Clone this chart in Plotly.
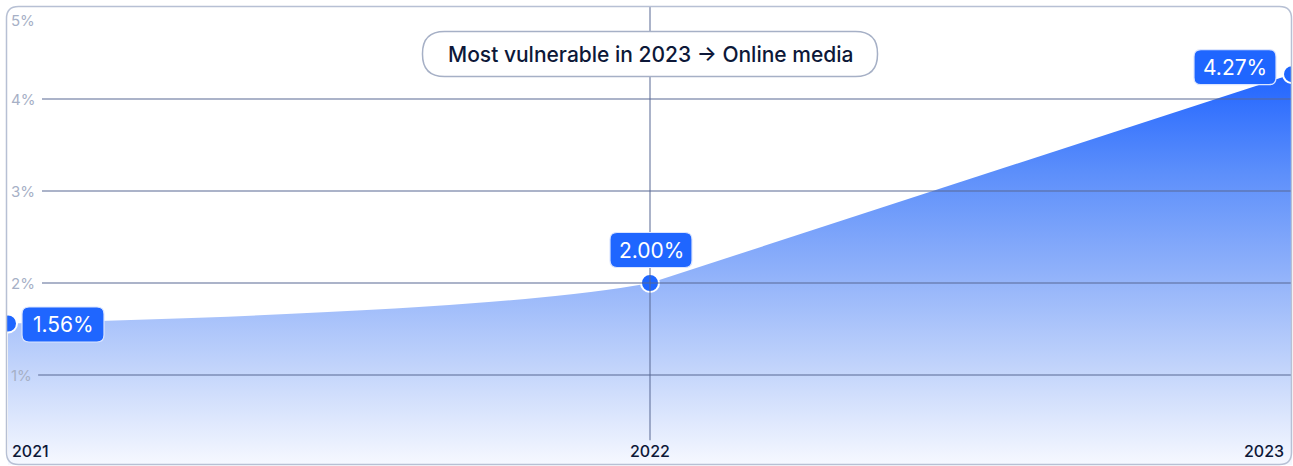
import plotly.graph_objects as go

# data
years = [2021, 2022, 2023]
shares = [1.56, 2.00, 4.27]
y_ticks = [1, 2, 3, 4, 5]
tick_labels = ["1%", "2%", "3%", "4%", "5%"]
callout = "Most vulnerable in 2023 \u2192 Online media"

BLUE = "#1f66ff"
NAVY = "#0d1838"
MUTED = "#a6b0c6"
BORDER = "#b7c0d4"
GRIDLINE = "rgba(88,104,148,0.5)"
FONT = "Inter, Noto Sans, sans-serif"

GRADIENT = dict(
    type="vertical",
    start=0,
    stop=4.3,
    colorscale=[
        [0, "#f7f9ff"],
        [0.25, "#c2d4fb"],
        [0.5, "#8eb0fa"],
        [0.75, "#5b8efb"],
        [1, "#1f63ff"],
    ],
)


def rounded_path(cx, cy, w, h, r):
    x0, x1 = cx - w / 2, cx + w / 2
    y0, y1 = cy - h / 2, cy + h / 2
    return (
        f"M{x0 + r},{y0} L{x1 - r},{y0} Q{x1},{y0} {x1},{y0 + r} "
        f"L{x1},{y1 - r} Q{x1},{y1} {x1 - r},{y1} L{x0 + r},{y1} "
        f"Q{x0},{y1} {x0},{y1 - r} L{x0},{y0 + r} Q{x0},{y0} {x0 + r},{y0} Z"
    )


fig = go.Figure()

# smoothed area (gives the gentle rise on the left)
fig.add_trace(
    go.Scatter(
        x=years,
        y=shares,
        mode="lines",
        line=dict(color="rgba(0,0,0,0)", width=0, shape="spline", smoothing=0.7),
        fill="tozeroy",
        fillgradient=GRADIENT,
        hoverinfo="skip",
        showlegend=False,
    )
)

# straight stretch to the last year
fig.add_trace(
    go.Scatter(
        x=years[1:],
        y=shares[1:],
        mode="lines",
        line=dict(color="rgba(0,0,0,0)", width=0),
        fill="tozeroy",
        fillgradient=GRADIENT,
        hoverinfo="skip",
        showlegend=False,
    )
)

fig.add_trace(
    go.Scatter(
        x=years,
        y=shares,
        mode="markers",
        marker=dict(size=18, color=BLUE, line=dict(color="white", width=2)),
        hoverinfo="skip",
        showlegend=False,
    )
)

shapes = []

# horizontal gridlines (drawn above the area)
for v in y_ticks[:-1]:
    shapes.append(
        dict(
            type="line", xref="paper", yref="y",
            x0=0.025 if v == 1 else 0.028, x1=1, y0=v, y1=v,
            line=dict(color=GRIDLINE, width=2), layer="above",
        )
    )

# vertical line at the middle year
shapes.append(
    dict(
        type="line", xref="x", yref="y",
        x0=years[1], x1=years[1], y0=0.29, y1=5.1,
        line=dict(color=GRIDLINE, width=2), layer="above",
    )
)

# callout pill
shapes.append(
    dict(
        type="path", xref="x", yref="y",
        xsizemode="pixel", ysizemode="pixel",
        xanchor=years[1], yanchor=4.489,
        path=rounded_path(0, 0, 455, 45, 22),
        fillcolor="white", line=dict(color=MUTED, width=1.5), layer="above",
    )
)

# value label boxes
offsets = [(55, -1), (1, 33), (-57, 7)]
for x, y, (dx, dy) in zip(years, shares, offsets):
    shapes.append(
        dict(
            type="path", xref="x", yref="y",
            xsizemode="pixel", ysizemode="pixel",
            xanchor=x, yanchor=y,
            path=rounded_path(dx, dy, 82, 35, 7),
            fillcolor=BLUE, line=dict(color="#dbe5ff", width=1.2), layer="above",
        )
    )

# outer rounded frame
shapes.append(
    dict(
        type="path", xref="paper", yref="paper",
        xsizemode="pixel", ysizemode="pixel",
        xanchor=0, yanchor=1,
        path=rounded_path(643, -229.5, 1285, 458, 12),
        fillcolor="rgba(0,0,0,0)", line=dict(color=BORDER, width=1.5), layer="above",
    )
)

annotations = []

for x, y, (dx, dy) in zip(years, shares, offsets):
    annotations.append(
        dict(
            x=x, y=y, xref="x", yref="y", text=f"{y:.2f}%",
            showarrow=False, xshift=dx, yshift=dy,
            font=dict(family=FONT, size=21, color="white"),
        )
    )

annotations.append(
    dict(
        x=years[1], y=4.489, xref="x", yref="y", text=callout,
        showarrow=False, font=dict(family=FONT, size=21, color=NAVY, weight=500),
    )
)

# y tick labels inside the plot
for v, lab in zip(y_ticks, tick_labels):
    annotations.append(
        dict(
            x=0, y=v, xref="paper", yref="y", text=lab,
            xanchor="left", yanchor="top" if v == 5 else "middle",
            xshift=3, yshift=-2 if v == 5 else 0,
            showarrow=False, font=dict(family=FONT, size=15, color=MUTED),
        )
    )

# year labels along the bottom
for i, yr in enumerate(years):
    annotations.append(
        dict(
            x=yr, y=0, xref="x", yref="paper", text=str(yr),
            xanchor=["left", "center", "right"][i],
            xshift=[2, 0, -6][i], yanchor="bottom", yshift=2,
            showarrow=False, font=dict(family=FONT, size=16, color=NAVY, weight=500),
        )
    )

fig.update_layout(
    width=1293,
    height=466,
    margin=dict(l=6, r=1, t=6, b=1),
    paper_bgcolor="white",
    plot_bgcolor="white",
    xaxis=dict(range=[2021 - 2 / 642, 2023], visible=False, fixedrange=True),
    yaxis=dict(range=[0.022, 5.011], visible=False, fixedrange=True),
    shapes=shapes,
    annotations=annotations,
    showlegend=False,
)

fig.write_html(
    "out.html",
    config={"displayModeBar": False},
    post_script="document.body.style.margin='0';",
)
